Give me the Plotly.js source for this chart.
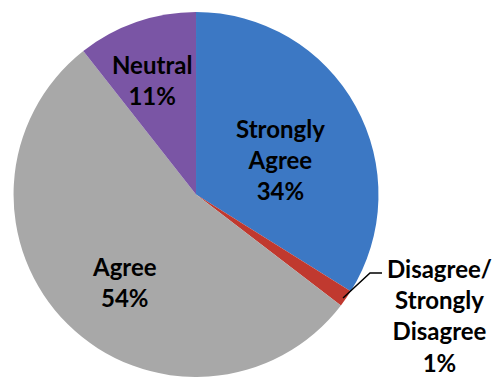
<!DOCTYPE html>
<html><head><meta charset="utf-8">
<script src="https://cdn.plot.ly/plotly-3.0.1.min.js"></script>
<style>html,body{margin:0;padding:0;background:#fff}#chart{width:495px;height:377px}</style>
</head><body><div id="chart"></div>
<script>
const categories = ["Strongly<br>Agree", "Disagree/<br>Strongly<br>Disagree", "Agree", "Neutral"];
const values = [33.9, 1.5, 54.0, 10.6];
const pctLabels = ["34%", "1%", "54%", "11%"];
const colors = ["#3c78c4", "#c0392f", "#a8a8a8", "#7a55a5"];

const FONT = {family: "Lato, Open Sans, sans-serif", size: 24, color: "#000", weight: 700};
// label anchor points (paper coords), in the same order as categories
const labelPos = [[0.5657, 0.578], [0.887, 0.163], [0.2525, 0.2533], [0.307, 0.7865]];

const trace = {
  type: "pie",
  labels: categories,
  values: values,
  text: pctLabels,
  sort: false,
  direction: "clockwise",
  rotation: 0,
  marker: {colors: colors, line: {width: 0}},
  textinfo: "none",
  hoverinfo: "none",
  domain: {x: [0.0263, 0.7657], y: [0, 0.968]},
  showlegend: false
};

const annotations = categories.map((c, i) => ({
  x: labelPos[i][0], y: labelPos[i][1], xref: "paper", yref: "paper",
  text: c + "<br>" + pctLabels[i],
  showarrow: false, font: FONT,
  align: "center", xanchor: "center", yanchor: "middle"
}));

const layout = {
  width: 495, height: 377,
  margin: {l: 0, r: 0, t: 0, b: 0},
  paper_bgcolor: "#fff",
  showlegend: false,
  annotations: annotations,
  shapes: [
    {type: "path", xref: "paper", yref: "paper",
     path: "M 0.693 0.2095 L 0.7475 0.2759 L 0.7717 0.2759",
     line: {color: "#000", width: 1.5}}
  ]
};

Plotly.newPlot("chart", [trace], layout, {displayModeBar: false, staticPlot: true});
</script>
</body></html>
